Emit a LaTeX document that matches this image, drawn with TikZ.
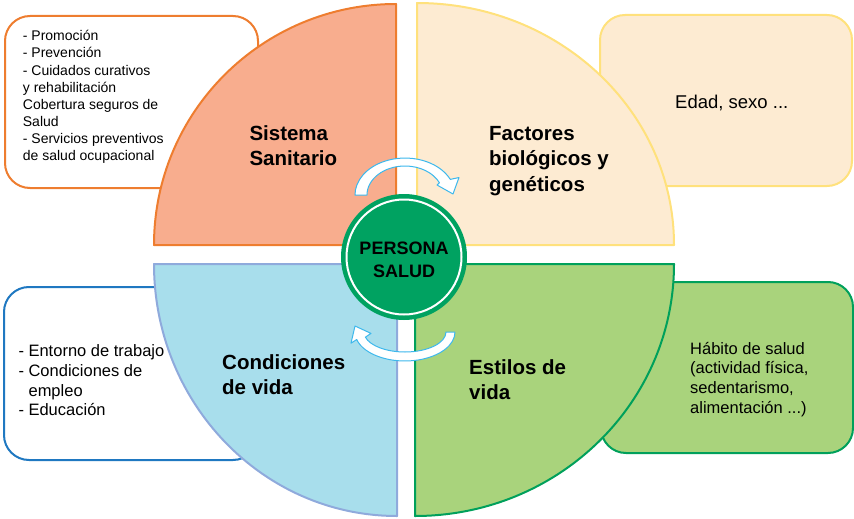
\documentclass[tikz,border=0pt]{standalone}
\usepackage{fontspec}
\setmainfont{Liberation Sans}
\definecolor{orfill}{HTML}{F8AD8E}
\definecolor{orline}{HTML}{EE7D2F}
\definecolor{crfill}{HTML}{FDEBD2}
\definecolor{crline}{HTML}{FFE17C}
\definecolor{blfill}{HTML}{A8DEEC}
\definecolor{blline}{HTML}{8FAADC}
\definecolor{grfill}{HTML}{A9D37C}
\definecolor{grline}{HTML}{00A05B}
\definecolor{boxblue}{HTML}{1F78C1}
\definecolor{arrline}{HTML}{3DB8EC}
\definecolor{centergreen}{HTML}{00A261}
\begin{document}
\begin{tikzpicture}[x=1pt,y=-1pt,
  quad/.style={line width=2pt, line join=round},
  infobox/.style={line width=2pt, rounded corners=25pt},
  smalltext/.style={anchor=north west, inner sep=0pt, align=left, font=\fontsize{14}{17.1}\selectfont},
  midtext/.style={anchor=north west, inner sep=0pt, align=left, font=\fontsize{16.5}{19.8}\selectfont},
  lbl/.style={anchor=north west, inner sep=0pt, align=left, font=\fontsize{20.5}{25.7}\selectfont\bfseries},
  curvarrow/.style={draw=arrline, fill=white, line width=1pt, line join=round}]
\useasboundingbox (0,0) rectangle (854,519);

% side boxes
\draw[infobox, draw=orline, fill=white] (5,16) rectangle (258,188);
\draw[infobox, draw=crline, fill=crfill] (600,15) rectangle (852,186);
\draw[infobox, draw=boxblue, fill=white] (4,287) rectangle (258,460);
\draw[infobox, draw=grline, fill=grfill] (601,282) rectangle (853,453);

% quadrants
\draw[quad, draw=orline, fill=orfill] (396,245) -- (154,245)
  arc[start angle=180, end angle=270, x radius=242, y radius=241] -- cycle;
\draw[quad, draw=crline, fill=crfill] (417,245) -- (417,3)
  arc[start angle=270, end angle=360, x radius=257, y radius=242] -- cycle;
\draw[quad, draw=blline, fill=blfill] (397,264) -- (154,264)
  arc[start angle=180, end angle=90, x radius=243, y radius=252] -- cycle;
\draw[quad, draw=grline, fill=grfill] (415,264) -- (674,264)
  arc[start angle=0, end angle=90, x radius=259, y radius=252] -- cycle;

% curved arrows
\draw[curvarrow] (355,195) -- (367,195)
  arc[start angle=180, end angle=335, x radius=38, y radius=29]
  -- (437,185) -- (453,194) -- (459,177.5) -- (450.3,179.4)
  arc[start angle=335, end angle=180, x radius=50, y radius=37] -- cycle;
\draw[curvarrow] (455,332) -- (446,332)
  arc[start angle=0, end angle=165, x radius=41, y radius=20]
  -- (371,333.4) -- (355,326) -- (351,343.2) -- (356.7,339.5)
  arc[start angle=165, end angle=0, x radius=50, y radius=29] -- cycle;

% centre
\node[circle, fill=centergreen, minimum size=126pt, inner sep=0pt] (centre) at (404,257) {};
\draw[white, line width=2pt] (centre.center) circle[radius=57.5];
\node[anchor=north, inner sep=0pt, align=center, font=\fontsize{18}{23.4}\selectfont\bfseries] (persona) at (404,237.9) {\strut PERSONA\\SALUD};

% quadrant labels
\node[lbl] (sistema) at (249.3,122) {\strut Sistema\\Sanitario};
\node[lbl] (factores) at (489,122) {\strut Factores\\biológicos y\\genéticos};
\node[lbl] (condiciones) at (222,351) {\strut Condiciones\\de vida};
\node[lbl] (estilos) at (469,356) {\strut Estilos de\\vida};

% box texts
\node[smalltext] (sanitxt) at (22.7,28.7) {\strut - Promoción\\- Prevención\\- Cuidados curativos\\y rehabilitación\\Cobertura seguros de\\Salud\\- Servicios preventivos\\de salud ocupacional};
\node[anchor=base west, inner sep=0pt, font=\fontsize{18.5}{22}\selectfont] (edad) at (675,108.3) {Edad, sexo ...};
\node[midtext] (condtxt) at (18.3,342.4) {\strut - Entorno de trabajo\\- Condiciones de\\\phantom{- }empleo\\- Educación};
\node[midtext] (habtxt) at (690,340.1) {\strut Hábito de salud\\(actividad física,\\sedentarismo,\\alimentación ...)};
\end{tikzpicture}
\end{document}
